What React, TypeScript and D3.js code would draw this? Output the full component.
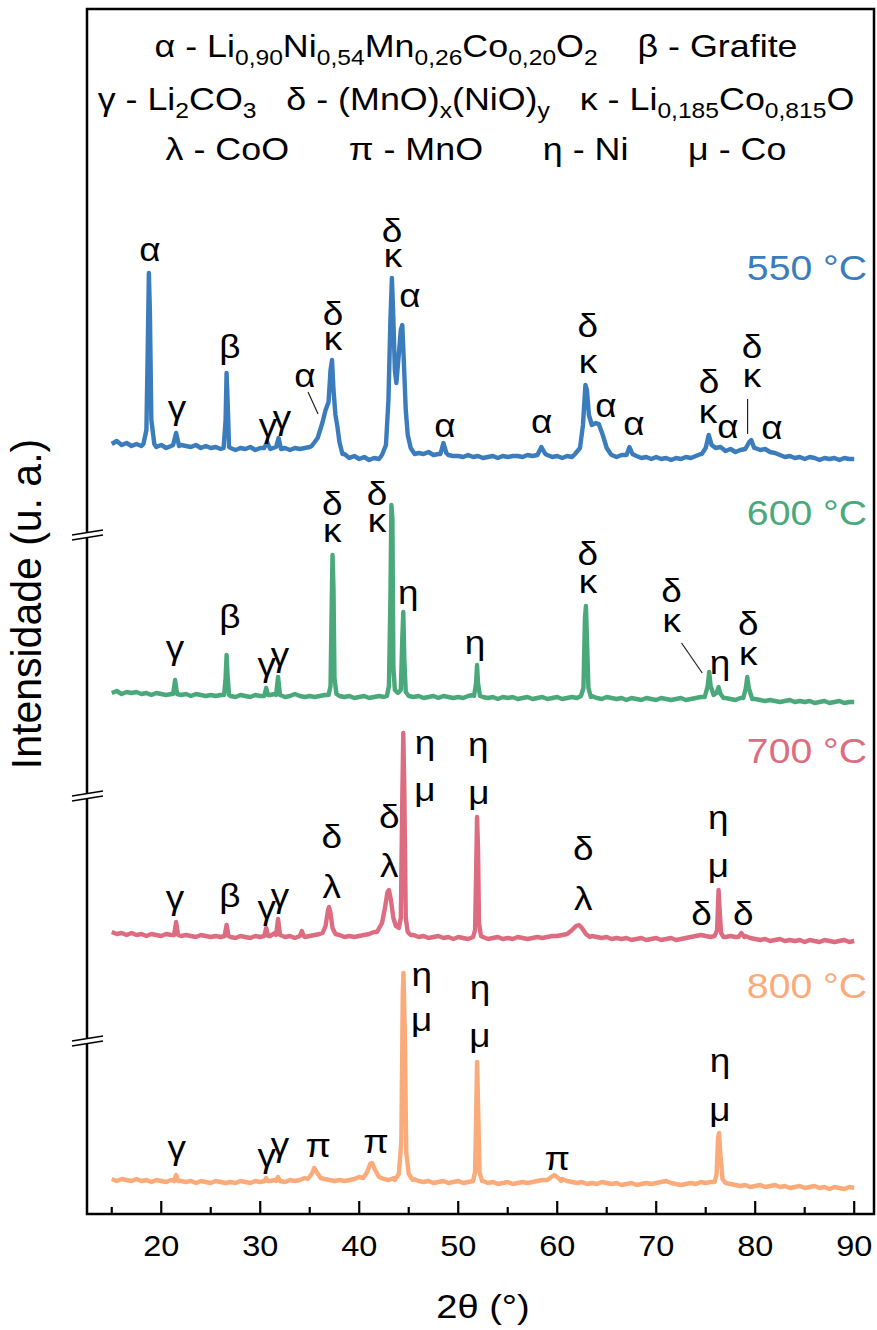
import React from 'react';
import * as d3 from 'd3';

// 2θ sampling grid of the background traces (0.5° steps, 15° .. 90°)
const grid = d3.range(15, 90.001, 0.5);

// background intensities (a.u. above each pattern's own baseline), one value per grid step
const bg550 = [
  16, 19, 15, 17, 14, 16, 14, 16, 15, 13, 15, 12, 14, 20, 15, 14, 13, 15, 12, 14,
  12, 13, 11, 12, 12, 10, 12, 11, 13, 10, 12, 14, 11, 13, 11, 12, 10, 12, 11, 12,
  13, 17, 15, 40, 70, 60, 20, 6, 2, 4, 1, 3, 0, 2, 1, 5, 60, 120, 100, 100,
  20, 6, 7, 6, 8, 5, 6, 14, 5, 4, 4, 3, 5, 3, 4, 2, 3, 4, 2, 4,
  3, 4, 4, 3, 5, 4, 6, 11, 5, 3, 4, 2, 4, 3, 6, 20, 70, 35, 36, 26,
  10, 5, 3, 5, 6, 11, 4, 2, 3, 1, 3, 1, 2, 0, 2, 1, 3, 2, 4, 6,
  12, 18, 11, 13, 9, 11, 8, 10, 11, 19, 12, 10, 11, 8, 7, 5, 3, 4, 2, 3,
  1, 3, 2, 0, 2, 1, 2, 0, 2, 1, 1,
];
const bg600 = [
  5, 7, 4, 6, 5, 6, 4, 5, 3, 5, 4, 3, 4, 6, 3, 4, 2, 4, 3, 2,
  3, 2, 3, 5, 2, 1, 3, 2, 1, 3, 2, 5, 3, 4, 3, 1, 2, 4, 2, 1,
  2, 1, 2, 3, 20, 20, 2, 1, 2, 0, 1, 2, 0, 1, 2, 1, 10, 10, 5, 40,
  3, 1, 2, 0, 1, 2, 0, 2, 1, 0, 1, 0, 2, 3, 3, 1, 0, 1, -1, 1,
  0, 1, -1, 0, 1, -1, 0, 1, -1, 0, 1, -1, 0, 1, 0, 3, 20, 2, 0, -1,
  1, 0, -1, 0, -2, 0, -1, -2, 0, -1, -2, 0, -1, -2, -1, 0, -2, -1, 0, 1,
  5, 15, 3, 5, 0, -1, -2, 0, 5, 10, -1, -2, -3, -2, -3, -4, -3, -2, -4, -3,
  -4, -3, -5, -4, -3, -5, -4, -3, -5, -4, -4,
];
const bg700 = [
  6, 4, 5, 3, 5, 3, 4, 2, 4, 3, 2, 4, 3, 6, 2, 3, 2, 1, 3, 2,
  1, 2, 1, 4, 1, 0, 2, 1, 0, 2, 1, 4, 2, 5, 2, 1, 2, 0, 4, 1,
  2, 3, 4, 10, 25, 8, 3, 1, 2, 1, 2, 3, 4, 6, 10, 22, 45, 20, 10, 150,
  5, 3, 1, 2, 0, 1, 2, 0, 1, -1, 1, 0, -1, 1, 60, 1, -1, 0, 1, -1,
  0, -1, 1, 0, -1, 0, 1, 0, 1, 2, 2, 3, 5, 8, 12, 10, 5, 2, 1, 0,
  1, -1, 0, -1, 0, -2, -1, 0, -2, -1, 0, -2, -1, 0, -2, -1, 0, 1, 2, 3,
  2, 1, 4, 10, 1, 2, 1, 4, 2, 0, -1, -2, -1, -3, -2, -1, -3, -2, -3, -2,
  -4, -2, -3, -4, -2, -3, -4, -3, -2, -4, -3,
];
const bg800 = [
  3, 1, 3, 2, 1, 3, 1, 2, 0, 2, 1, 0, 2, 4, 1, 0, 1, -1, 1, 0,
  -1, 1, 0, -1, 0, -1, 1, 0, -1, 1, 0, 2, 1, 2, 1, 0, 2, 1, 2, 4,
  8, 13, 7, 3, 2, 1, 2, 1, 2, 3, 5, 10, 17, 15, 6, 3, 2, 4, 8, 150,
  6, 3, 1, 0, 1, -1, 0, 1, -1, 0, 1, -1, 0, 2, 60, 1, -1, 0, -2, -1,
  0, -2, -1, 0, -1, 0, 1, 2, 3, 5, 6, 3, 1, 0, -1, 0, -2, -1, -2, 0,
  -1, -2, -1, -3, -2, -1, -3, -2, -1, -2, -1, 0, 1, -1, -2, -3, -2, -1, -2, 0,
  -1, 0, 2, 20, 0, -2, -3, -4, -3, -5, -4, -3, -5, -4, -3, -5, -4, -6, -5, -4,
  -6, -5, -4, -6, -5, -7, -5, -6, -7, -5, -6,
];

// reflection profiles [2θ, intensity]
const peaks550: [number, number][][] = [
  [[18.2, 16], [18.5, 30], [18.65, 120], [18.75, 187], [18.85, 150], [19.0, 40], [19.3, 16]],
  [[21.2, 15], [21.5, 27], [21.8, 14]],
  [[26.3, 12], [26.5, 40], [26.6, 87], [26.7, 60], [26.85, 13]],
  [[30.4, 12], [30.7, 18], [31.0, 11], [31.6, 13], [31.85, 22], [32.1, 11]],
  [[35.2, 14], [35.8, 22], [36.3, 38], [36.6, 50], [36.9, 58], [37.1, 90], [37.25, 100], [37.4, 70], [37.6, 45], [37.8, 33], [38.0, 18], [38.3, 6]],
  [[42.3, 5], [42.7, 15], [42.95, 60], [43.15, 140], [43.3, 182], [43.45, 140], [43.6, 90], [43.75, 77], [43.95, 100], [44.2, 130], [44.35, 135], [44.5, 100], [44.7, 50], [44.9, 25], [45.2, 12], [45.6, 6]],
  [[48.2, 6], [48.5, 17], [48.8, 7]],
  [[58.0, 5], [58.4, 13], [58.8, 6]],
  [[61.8, 6], [62.3, 12], [62.6, 35], [62.85, 75], [63.0, 70], [63.2, 45], [63.5, 35], [63.9, 37], [64.2, 36], [64.6, 25], [65.0, 12], [65.4, 6]],
  [[67.0, 5], [67.3, 13], [67.6, 6]],
  [[74.6, 6], [75.0, 12], [75.3, 25], [75.6, 15], [76.0, 12]],
  [[79.0, 11], [79.4, 18], [79.6, 20], [79.9, 12]],
];
const peaks600: [number, number][][] = [
  [[21.2, 4], [21.4, 18], [21.6, 4]],
  [[26.35, 3], [26.5, 20], [26.6, 43], [26.7, 22], [26.85, 3]],
  [[30.4, 2], [30.6, 10], [30.8, 3]],
  [[31.6, 3], [31.8, 21], [32.0, 3]],
  [[36.9, 3], [37.1, 12], [37.2, 80], [37.3, 143], [37.4, 110], [37.5, 20], [37.7, 4]],
  [[42.8, 2], [43.0, 12], [43.15, 100], [43.25, 193], [43.35, 180], [43.45, 30], [43.6, 8], [43.9, 5], [44.2, 8], [44.35, 60], [44.45, 86], [44.55, 40], [44.7, 6], [45.0, 2]],
  [[51.6, 2], [51.8, 15], [51.9, 33], [52.0, 15], [52.2, 2]],
  [[62.4, 2], [62.65, 10], [62.8, 80], [62.9, 92], [63.0, 60], [63.15, 10], [63.4, 1]],
  [[74.9, 1], [75.2, 12], [75.35, 26], [75.5, 12], [75.8, 3], [76.1, 5], [76.3, 11], [76.5, 4], [76.8, 0]],
  [[78.8, 0], [79.05, 10], [79.2, 21], [79.35, 10], [79.7, -1]],
];
const peaks700: [number, number][][] = [
  [[21.3, 3], [21.5, 16], [21.7, 3]],
  [[26.4, 2], [26.6, 13], [26.8, 2]],
  [[30.4, 2], [30.6, 10], [30.8, 2]],
  [[31.6, 3], [31.8, 19], [32.0, 3]],
  [[34.0, 2], [34.2, 7], [34.4, 2]],
  [[36.3, 5], [36.6, 12], [36.85, 28], [36.95, 31], [37.1, 25], [37.3, 10], [37.6, 4]],
  [[41.8, 6], [42.3, 15], [42.6, 30], [42.85, 46], [43.0, 48], [43.2, 38], [43.45, 20], [43.7, 12], [44.0, 10], [44.2, 20], [44.35, 140], [44.45, 205], [44.55, 150], [44.7, 20], [44.9, 6], [45.2, 3]],
  [[51.5, 1], [51.7, 8], [51.8, 60], [51.9, 121], [52.0, 90], [52.1, 15], [52.3, 2]],
  [[61.0, 4], [61.5, 8], [61.9, 12], [62.2, 13], [62.5, 10], [62.9, 4], [63.3, 1]],
  [[75.9, 2], [76.15, 8], [76.3, 48], [76.4, 30], [76.55, 5], [76.8, 1]],
  [[78.3, 1], [78.6, 5], [78.9, 1]],
];
const peaks800: [number, number][][] = [
  [[21.3, 1], [21.5, 7], [21.7, 1]],
  [[30.45, 1], [30.6, 4], [30.75, 1]],
  [[31.6, 1], [31.8, 5], [32.0, 1]],
  [[34.8, 3], [35.2, 8], [35.45, 14], [35.7, 10], [36.1, 4]],
  [[40.4, 4], [40.8, 10], [41.1, 18], [41.3, 19], [41.6, 12], [42.0, 5]],
  [[43.6, 2], [44.0, 8], [44.25, 40], [44.4, 190], [44.47, 209], [44.6, 150], [44.75, 30], [45.0, 8], [45.4, 2]],
  [[51.5, 1], [51.7, 10], [51.8, 60], [51.9, 120], [52.0, 80], [52.15, 10], [52.4, 1]],
  [[59.0, 2], [59.4, 5], [59.7, 7], [60.0, 5], [60.4, 1]],
  [[75.9, 0], [76.1, 8], [76.25, 45], [76.35, 49], [76.5, 25], [76.7, 3], [77.0, -1]],
];

const temps = ['550 °C', '600 °C', '700 °C', '800 °C'];
const colors = ['#3a7cbc', '#4aa97a', '#dd6c81', '#fbab79'];
// vertical stacking offsets of each pattern (a.u.)
const offsets = [754, 516, 276, 32];
const tempLabelY = [934, 689, 451, 216];
const breakY = [680, 419, 174];

const xTicks = [20, 30, 40, 50, 60, 70, 80, 90];
const xMinor = [15, 25, 35, 45, 55, 65, 75, 85];

type Lab = [number, number, string];
// phase labels [2θ, stacked intensity, glyph]
const labels: Lab[] = [
  [18.86, 953, 'α'], [21.59, 795, 'γ'], [26.94, 856, 'β'], [30.78, 777, 'γ'], [32.2, 785, 'γ'],
  [34.52, 827, 'α'], [37.35, 889, 'δ'], [37.35, 864, 'κ'], [43.31, 972, 'δ'], [43.41, 947, 'κ'],
  [45.13, 907, 'α'], [48.66, 777, 'α'], [58.43, 781, 'α'], [63.1, 877, 'δ'], [63.1, 841, 'κ'],
  [64.93, 797, 'α'], [67.75, 779, 'α'], [75.33, 821, 'δ'], [75.23, 791, 'κ'], [77.25, 776, 'α'],
  [79.67, 856, 'δ'], [79.67, 827, 'κ'], [81.69, 775, 'α'],
  [21.39, 555, 'γ'], [26.94, 586, 'β'], [30.65, 538, 'γ'], [31.99, 548, 'γ'], [37.28, 699, 'δ'],
  [37.28, 672, 'κ'], [41.79, 709, 'δ'], [41.79, 682, 'κ'], [44.95, 610, 'η'], [51.69, 560, 'η'],
  [63.1, 649, 'δ'], [63.1, 621, 'κ'], [71.56, 612, 'δ'], [71.56, 582, 'κ'], [76.44, 540, 'η'],
  [79.3, 579, 'δ'], [79.3, 549, 'κ'],
  [21.39, 305, 'γ'], [26.94, 307, 'β'], [30.65, 295, 'γ'], [31.99, 307, 'γ'], [37.22, 366, 'δ'],
  [37.22, 316, 'λ'], [43.04, 386, 'δ'], [43.04, 337, 'λ'], [46.64, 460, 'η'], [46.64, 413, 'μ'],
  [52.03, 458, 'η'], [52.1, 410, 'μ'], [62.63, 354, 'δ'], [62.63, 304, 'λ'], [76.27, 385, 'η'],
  [76.27, 337, 'μ'], [74.59, 289, 'δ'], [78.79, 289, 'δ'],
  [21.56, 55, 'γ'], [30.65, 47, 'γ'], [31.99, 58, 'γ'], [35.86, 57, 'π'], [41.69, 61, 'π'],
  [46.31, 228, 'η'], [46.31, 183, 'μ'], [52.2, 215, 'η'], [52.2, 167, 'μ'], [60.0, 44, 'π'],
  [76.44, 142, 'η'], [76.44, 93, 'μ'],
];
// leader lines [2θ1, y1, 2θ2, y2]
const leaders: [number, number, number, number][] = [
  [34.83, 822, 35.84, 800],
  [79.23, 815, 79.23, 780],
  [72.56, 571, 74.65, 541],
];

type Seg = [string, boolean];
const legendLines: Seg[][] = [
  [['α - Li', false], ['0,90', true], ['Ni', false], ['0,54', true], ['Mn', false], ['0,26', true], ['Co', false], ['0,20', true], ['O', false], ['2', true], ['    β - Grafite', false]],
  [['γ - Li', false], ['2', true], ['CO', false], ['3', true], ['   δ - (MnO)', false], ['x', true], ['(NiO)', false], ['y', true], ['   κ - Li', false], ['0,185', true], ['Co', false], ['0,815', true], ['O', false]],
  [['λ - CoO      π - MnO      η - Ni      μ - Co', false]],
];

const W = 877, H = 1330;
const m = { left: 87, right: 874, top: 9, bottom: 1214 };
const FONT = '"Liberation Sans", Arial, sans-serif';
const SX = 1.12; // the figure's lettering is a little wider than Arial

function build(bg: number[], groups: [number, number][][]): [number, number][] {
  const pts: [number, number][] = [];
  grid.forEach((x, i) => {
    if (!groups.some(g => x >= g[0][0] && x <= g[g.length - 1][0])) pts.push([x, bg[i]]);
  });
  groups.forEach(g => pts.push(...g));
  return pts.sort((a, b) => a[0] - b[0]);
}

function T({ x, y, size, anchor = 'middle', fill = '#000', children }: any) {
  return (
    <text transform={`translate(${x},${y}) scale(${SX},1)`} textAnchor={anchor} fontSize={size} fill={fill} style={{ whiteSpace: 'pre' }}>
      {children}
    </text>
  );
}

export default function App() {
  const x = d3.scaleLinear().domain([12.5, 92]).range([m.left, m.right]);
  const y = d3.scaleLinear().domain([0, 1205]).range([m.bottom, m.top]);
  const series = [build(bg550, peaks550), build(bg600, peaks600), build(bg700, peaks700), build(bg800, peaks800)];

  return (
    <svg width={W} height={H} style={{ position: 'absolute', left: 0, top: 0, background: '#fff' }} fontFamily={FONT}>
      {series.map((s, i) => {
        const line = d3.line<[number, number]>().x(d => x(d[0])).y(d => y(d[1] + offsets[i]));
        return <path key={i} d={line(s) || ''} fill="none" stroke={colors[i]} strokeWidth={4.4} strokeLinejoin="round" />;
      })}

      {leaders.map((l, i) => (
        <line key={i} x1={x(l[0])} y1={y(l[1])} x2={x(l[2])} y2={y(l[3])} stroke="#222" strokeWidth={1.2} />
      ))}
      {labels.map((l, i) => (
        <T key={i} x={x(l[0])} y={y(l[1])} size={33}>{l[2]}</T>
      ))}
      {temps.map((t, i) => (
        <T key={t} x={x(91.3)} y={y(tempLabelY[i])} size={35} anchor="end" fill={colors[i]}>{t}</T>
      ))}

      {legendLines.map((ln, i) => (
        <T key={i} x={476} y={[57, 110, 160][i]} size={32}>
          {ln.map((sg, j) => (
            <tspan key={j} fontSize={sg[1] ? 22 : 32} dy={sg[1] ? 8 : (j > 0 && ln[j - 1][1] ? -8 : 0)}>{sg[0]}</tspan>
          ))}
        </T>
      ))}

      <rect x={m.left} y={m.top} width={m.right - m.left} height={m.bottom - m.top} fill="none" stroke="#000" strokeWidth={2.5} />
      {xTicks.map(t => (
        <g key={t}>
          <line x1={x(t)} x2={x(t)} y1={m.bottom} y2={m.bottom - 13} stroke="#000" strokeWidth={2.2} />
          <T x={x(t)} y={1256} size={29}>{t}</T>
        </g>
      ))}
      {xMinor.map(t => (
        <line key={t} x1={x(t)} x2={x(t)} y1={m.bottom} y2={m.bottom - 7} stroke="#000" strokeWidth={2.2} />
      ))}

      {breakY.map(b => {
        const py = y(b);
        return (
          <g key={b}>
            <polygon points={`72,${py + 1} 103,${py - 4} 103,${py + 1} 72,${py + 6}`} fill="#fff" />
            <line x1={72} y1={py + 1} x2={103} y2={py - 4} stroke="#000" strokeWidth={1.6} />
            <line x1={72} y1={py + 6} x2={103} y2={py + 1} stroke="#000" strokeWidth={1.6} />
          </g>
        );
      })}

      <T x={483} y={1318} size={34}>2θ (°)</T>
      <text transform="translate(41,604) rotate(-90) scale(1,1.05)" textAnchor="middle" fontSize={41}>Intensidade (u. a.)</text>
    </svg>
  );
}
